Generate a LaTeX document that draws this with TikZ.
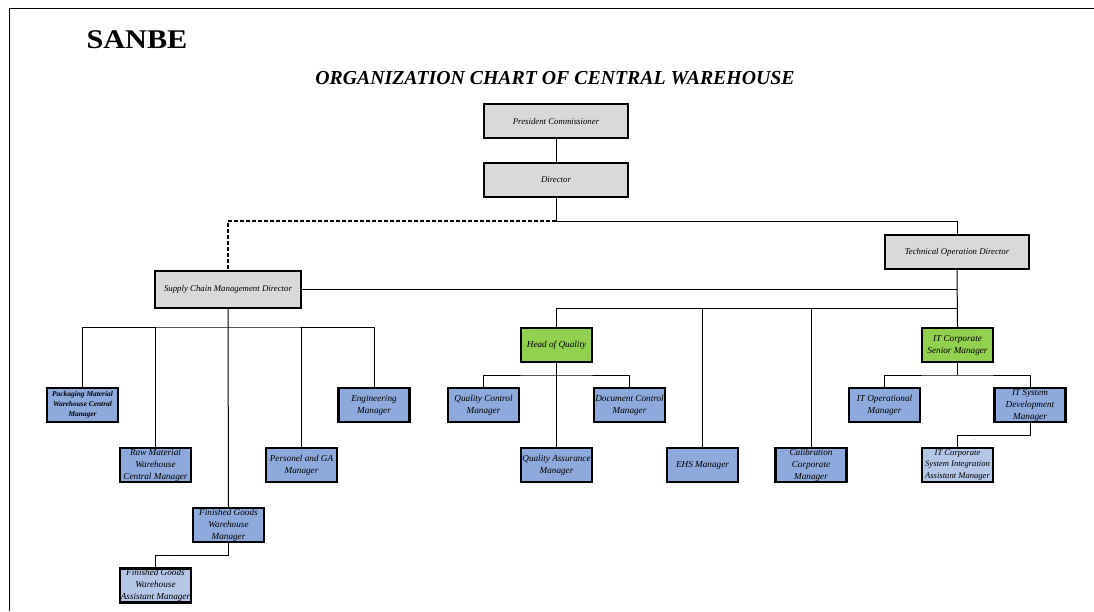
\documentclass[tikz,border=0pt]{standalone}
\usepackage{fontspec}
\setmainfont{Liberation Serif}
\usepackage{tikz}

\begin{document}
\begin{tikzpicture}[x=1pt, y=-1pt,
  box/.style={draw=black, line width=2.2pt, minimum width=71pt, minimum height=34pt, inner sep=0pt, align=center, font=\itshape\fontsize{9.2}{12}\selectfont},
  greybox/.style={box, fill=gray!30, minimum width=144pt, font=\itshape\fontsize{8.8}{10}\selectfont},
  bluebox/.style={box, fill=manblue},
  lightbox/.style={box, fill=asstblue},
  greenbox/.style={box, fill=headgreen},
  link/.style={line width=1pt},
  dashlink/.style={line width=1.6pt, dash pattern=on 4pt off 2pt}]
\definecolor{manblue}{HTML}{8EA9DB}
\definecolor{asstblue}{HTML}{B4C7E7}
\definecolor{headgreen}{HTML}{92D050}
\useasboundingbox (0,0) rectangle (1094,611);
\fill[white] (0,0) rectangle (1094,611);

\draw[line width=1pt] (9,611) -- (9,8) -- (1094,8);

\node[xscale=1.12] (sanbe) at (137,40) {\fontsize{27}{30}\selectfont\bfseries SANBE};
\node (title) at (555,78) {\fontsize{19.8}{22}\selectfont\bfseries\itshape ORGANIZATION CHART OF CENTRAL WAREHOUSE};

\node[greybox] (pres) at (556,121) {President Commissioner};
\node[greybox] (dir) at (556,180) {Director};
\node[greybox, minimum width=146pt, minimum height=37pt] (scm) at (228,289.5) {Supply Chain Management Director};
\node[greybox] (tod) at (957,252) {Technical Operation Director};

\node[greenbox] (hoq) at (556.5,345) {Head of Quality};
\node[greenbox] (itsm) at (957.5,345) {IT Corporate\\Senior Manager};

\node[bluebox] (qcm) at (483.5,405) {Quality Control\\Manager};
\node[bluebox] (dcm) at (629.5,405) {Document Control\\Manager};
\node[bluebox] (qam) at (556.5,465) {Quality Assurance\\Manager};
\node[bluebox] (ehs) at (702.5,465) {EHS Manager};
\node[bluebox] (calib) at (811,465) {Calibration\\Corporate\\Manager};
\node[bluebox] (itom) at (884.5,405) {IT Operational\\Manager};
\node[bluebox] (itsd) at (1030,405) {IT System\\Development\\Manager};
\node[lightbox, font=\itshape\fontsize{8.6}{11.5}\selectfont] (itasst) at (957.5,465) {IT Corporate\\System Integration\\Assistant Manager};

\node[bluebox, font=\itshape\bfseries\fontsize{7.4}{10}\selectfont] (pmwc) at (82.5,405) {Packaging Material\\Warehouse Central\\Manager};
\node[bluebox] (rmwc) at (155.5,465) {Raw Material\\Warehouse\\Central Manager};
\node[bluebox] (pga) at (301.5,465) {Personel and GA\\Manager};
\node[bluebox] (eng) at (374,405) {Engineering\\Manager};
\node[bluebox] (fgwm) at (228.5,525) {Finished Goods\\Warehouse\\Manager};
\node[lightbox] (fgasst) at (155.5,585.5) {Finished Goods\\Warehouse\\Assistant Manager};

\node[font=\fontsize{4}{4}\selectfont, inner sep=0pt] (tick1) at (173,561) {`};
\node[font=\fontsize{4}{4}\selectfont, inner sep=0pt] (tick2) at (975,440) {`};

\coordinate (top) at (556,221);
\coordinate (qbus) at (957.5,308);
\coordinate (sbus) at (228,327);
\coordinate (qsplit) at (556.5,375);
\coordinate (isplit) at (957.5,375);
\coordinate (ajoin) at (957.5,435);
\coordinate (fjoin) at (155.5,555);

\draw[link] (pres) -- (dir);
\draw[link] (dir.south) -- (top) -| (tod.north);
\draw[dashlink] (top) -| (scm.north);
\draw[link] (scm.east) -- (scm.east -| tod.south);
\draw[link] (tod.south) -- (itsm.north);
\draw[link] (hoq.north) |- (qbus);
\draw[link] (ehs.north) -- (ehs.north |- qbus);
\draw[link] (calib.north) -- (calib.north |- qbus);

\draw[link] (hoq.south) -- (qam.north);
\draw[link] (qcm.north) |- (qsplit) -| (dcm.north);
\draw[link] (itsm.south) -- (isplit);
\draw[link] (itom.north) |- (isplit) -| (itsd.north);
\draw[link] (itsd.south) |- (ajoin) -- (itasst.north);

\draw[link] (scm.south) -- (fgwm.north);
\draw[link] (pmwc.north) |- (sbus) -| (eng.north);
\draw[link] (rmwc.north) -- (rmwc.north |- sbus);
\draw[link] (pga.north) -- (pga.north |- sbus);
\draw[link] (fgwm.south) |- (fjoin) -- (fgasst.north);

\end{tikzpicture}
\end{document}
